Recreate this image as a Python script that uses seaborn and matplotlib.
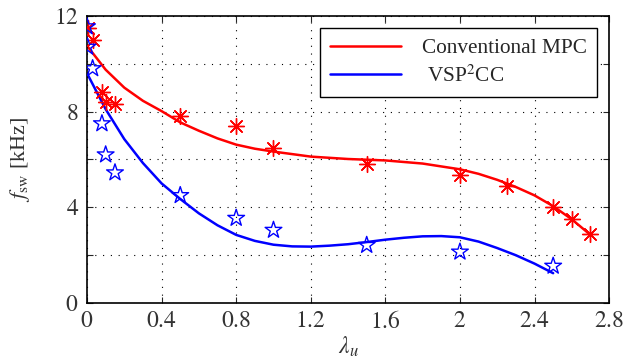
# Switching frequency vs lambda_u: conventional MPC vs VSP2CC

import pandas as pd
import seaborn as sns
import matplotlib.pyplot as plt

lam_mpc = [0.005, 0.03, 0.08, 0.1, 0.15, 0.5, 0.8, 1.0, 1.5, 2.0, 2.25, 2.5, 2.6, 2.7]
fsw_mpc = [11.5, 11.0, 8.8, 8.4, 8.3, 7.8, 7.4, 6.5, 5.8, 5.35, 4.9, 4.0, 3.5, 2.9]

lam_vsp = [0.0, 0.003, 0.03, 0.08, 0.1, 0.15, 0.5, 0.8, 1.0, 1.5, 2.0, 2.5]
fsw_vsp = [11.55, 10.7, 9.8, 7.5, 6.2, 5.45, 4.5, 3.55, 3.05, 2.42, 2.14, 1.55]

# Fitted trend curves
fit_lam_mpc = [0, 0.1, 0.2, 0.3, 0.4, 0.5, 0.6, 0.7, 0.8, 0.9, 1.0, 1.2, 1.4, 1.6,
               1.8, 2.0, 2.1, 2.2, 2.3, 2.4, 2.5, 2.6, 2.7]
fit_fsw_mpc = [10.75, 9.75, 9.0, 8.45, 8.02, 7.55, 7.2, 6.88, 6.62, 6.45, 6.33, 6.12,
               6.02, 5.96, 5.83, 5.59, 5.4, 5.15, 4.85, 4.5, 4.05, 3.5, 2.85]

fit_lam_vsp = [0, 0.1, 0.2, 0.3, 0.4, 0.5, 0.6, 0.7, 0.8, 0.9, 1.0, 1.1, 1.2, 1.3,
               1.4, 1.5, 1.6, 1.7, 1.8, 1.9, 2.0, 2.1, 2.2, 2.3, 2.4, 2.5]
fit_fsw_vsp = [9.6, 8.1, 6.85, 5.85, 5.0, 4.35, 3.75, 3.25, 2.85, 2.6, 2.44, 2.37,
               2.36, 2.4, 2.46, 2.55, 2.65, 2.73, 2.79, 2.8, 2.75, 2.57, 2.3, 2.0,
               1.65, 1.25]

xticks = [0, 0.4, 0.8, 1.2, 1.6, 2, 2.4, 2.8]
xticklabels = ['$0$', '$0.4$', '$0.8$', '$1.2$', '$1.6$', '$2$', '$2.4$', '$2.8$']
yticks = [0, 2, 4, 6, 8, 10, 12]
yticklabels = ['$0$', '', '$4$', '', '$8$', '', '$12$']

df_mpc = pd.DataFrame({'lam': lam_mpc, 'fsw': fsw_mpc})
df_vsp = pd.DataFrame({'lam': lam_vsp, 'fsw': fsw_vsp})

sns.set_style('ticks')
plt.rcParams['font.family'] = ['Liberation Serif', 'DejaVu Serif']
plt.rcParams['mathtext.fontset'] = 'stix'

fig = plt.figure(figsize=(6.26, 3.6), dpi=100)
ax = fig.add_axes([0.139, 0.158, 0.834, 0.798])

# trend curves
sns.lineplot(x=fit_lam_mpc, y=fit_fsw_mpc, color='red', lw=1.8,
             label='Conventional MPC', ax=ax)
sns.lineplot(x=fit_lam_vsp, y=fit_fsw_vsp, color='blue', lw=1.8,
             label=' VSP$^2$CC', ax=ax)
handles, labels = ax.get_legend_handles_labels()

# measured points
sns.scatterplot(data=df_mpc, x='lam', y='fsw', marker=(8, 2, 0), s=130,
                color='red', linewidth=1.0, ax=ax, zorder=3)
sns.scatterplot(data=df_vsp, x='lam', y='fsw', marker='*', s=160,
                facecolor='none', edgecolor='blue', linewidth=1.0, ax=ax, zorder=3)

ax.set_xlim(0, 2.8)
ax.set_ylim(0, 12)
ax.set_xticks(xticks)
ax.set_xticklabels(xticklabels)
ax.set_yticks(yticks)
ax.set_yticklabels(yticklabels)
ax.tick_params(direction='in', length=4, width=0.8, top=True, right=True,
               labelsize=17, labelcolor='#333333', pad=6)
ax.grid(True, color='black', linestyle=(0, (1, 6)), linewidth=0.8)
for s in ax.spines.values():
    s.set_visible(True)
    s.set_linewidth(1.2)
    s.set_color('black')

ax.set_xlabel(r'$\lambda_u$', fontsize=17, color='#333333', labelpad=1)
ax.set_ylabel(r'$f_{\rm sw}$ [kHz]', fontsize=16, color='#333333', labelpad=16)

leg = ax.legend(handles, labels, loc='upper right', fontsize=15.3, frameon=True,
                fancybox=False, edgecolor='black', framealpha=1,
                handlelength=3.3, borderpad=0.5, labelspacing=0.35,
                handletextpad=1.0, borderaxespad=0.55)
leg.get_frame().set_linewidth(1.0)

fig.savefig('out.png', dpi=100)
